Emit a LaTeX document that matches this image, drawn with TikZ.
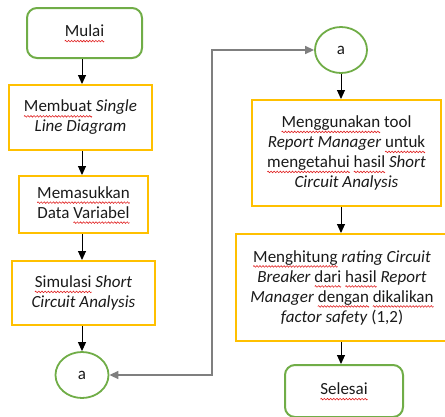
\documentclass[tikz,border=0pt]{standalone}
\usepackage{fontspec}
\setmainfont{Carlito}
\usetikzlibrary{shapes.geometric,arrows.meta}

\definecolor{boxyellow}{HTML}{FFC000}
\definecolor{termgreen}{HTML}{70AD47}
\definecolor{linkgray}{HTML}{7F7F7F}
\definecolor{splred}{HTML}{E02020}
\definecolor{inktext}{HTML}{1A1A1A}

% wavy red underline built from a repeated zigzag tile
\newsavebox\wavetile
\newsavebox\splword
\sbox\wavetile{\tikz[x=1pt,y=1pt,baseline=0pt]{%
  \draw[splred, line width=0.6pt] (0,0) -- (0.75,0.8) -- (2.25,-0.8) -- (3,0);
  \pgfresetboundingbox\useasboundingbox (0,0) rectangle (3,0);}}
\newcommand\spl[1]{\sbox\splword{#1}%
  \rlap{\lower4.4pt\hbox to\wd\splword{\xleaders\copy\wavetile\hfil}}\usebox\splword}

\tikzset{
  base/.style={inner sep=0pt, align=center, text=inktext,
    font=\fontsize{17}{20}\selectfont},
  proc/.style={base, draw=boxyellow, line width=2pt},
  term/.style={base, draw=termgreen, line width=2pt, rounded corners=10pt},
  conn/.style={base, ellipse, draw=termgreen, line width=1.8pt},
  flow/.style={-{Triangle[length=9pt,width=8pt]}, line width=1pt, black},
  link/.style={{Triangle[length=9pt,width=8pt]}-{Triangle[length=9pt,width=8pt]},
    line width=1.5pt, linkgray}
}

\begin{document}
\begin{tikzpicture}[x=1pt,y=-1pt]
\useasboundingbox (0,0) rectangle (445,416);
\clip (0,0) rectangle (445,416);

% left column
\node[term, minimum width=115pt, minimum height=50pt] (mulai) at (84.5,33) {\spl{Mulai}};
\node[proc, minimum width=143pt, minimum height=65pt] (b1) at (80.5,117.5)
  {\spl{Membuat} \textit{Single}\\ \textit{Line Diagram}};
\node[proc, minimum width=129pt, minimum height=57pt] (b2) at (83.5,204.5)
  {\spl{Memasukkan}\\ Data \spl{Variabel}};
\node[proc, minimum width=143pt, minimum height=64pt] (b3) at (83.5,293)
  {\spl{Simulasi} \textit{Short}\\ \textit{Circuit Analysis}};
\node[conn, minimum width=53pt, minimum height=46pt] (a1) at (82,375) {a};

% right column
\node[conn, minimum width=52pt, minimum height=46pt] (a2) at (341,50) {a};
\node[proc, minimum width=189pt, minimum height=106pt] (b4) at (346.5,153)
  {\spl{Menggunakan} tool\\ \textit{Report Manager} \spl{untuk}\\
   \spl{mengetahui} \spl{hasil} \textit{Short}\\ \textit{Circuit Analysis}};
\node[proc, minimum width=212pt, minimum height=107pt] (b5) at (342,287.5)
  {\spl{Menghitung} \textit{rating Circuit}\\ \textit{Breaker} \spl{dari} \spl{hasil} \textit{Report}\\
   \textit{Manager} \spl{dengan} \spl{dikalikan}\\ \textit{factor safety} (1,2)};
\node[term, minimum width=118pt, minimum height=52pt] (selesai) at (344,391) {\spl{Selesai}};

% flow arrows
\draw[flow] (mulai.south -| a1) -- (b1.north -| a1);
\draw[flow] (b1.south -| a1) -- (b2.north -| a1);
\draw[flow] (b2.south -| a1) -- (b3.north -| a1);
\draw[flow] (b3.south -| a1) -- (a1.north);
\draw[flow] (a2.south) -- (b4.north -| a2);
\draw[flow] (b4.south -| a2) -- (b5.north -| a2);
\draw[flow] (b5.south -| a2) -- (selesai.north -| a2);

% off-page connector link
\coordinate (turn) at (212,0);
\draw[link] (a1.east) -- (a1.east -| turn) |- (a2.west);
\end{tikzpicture}
\end{document}
